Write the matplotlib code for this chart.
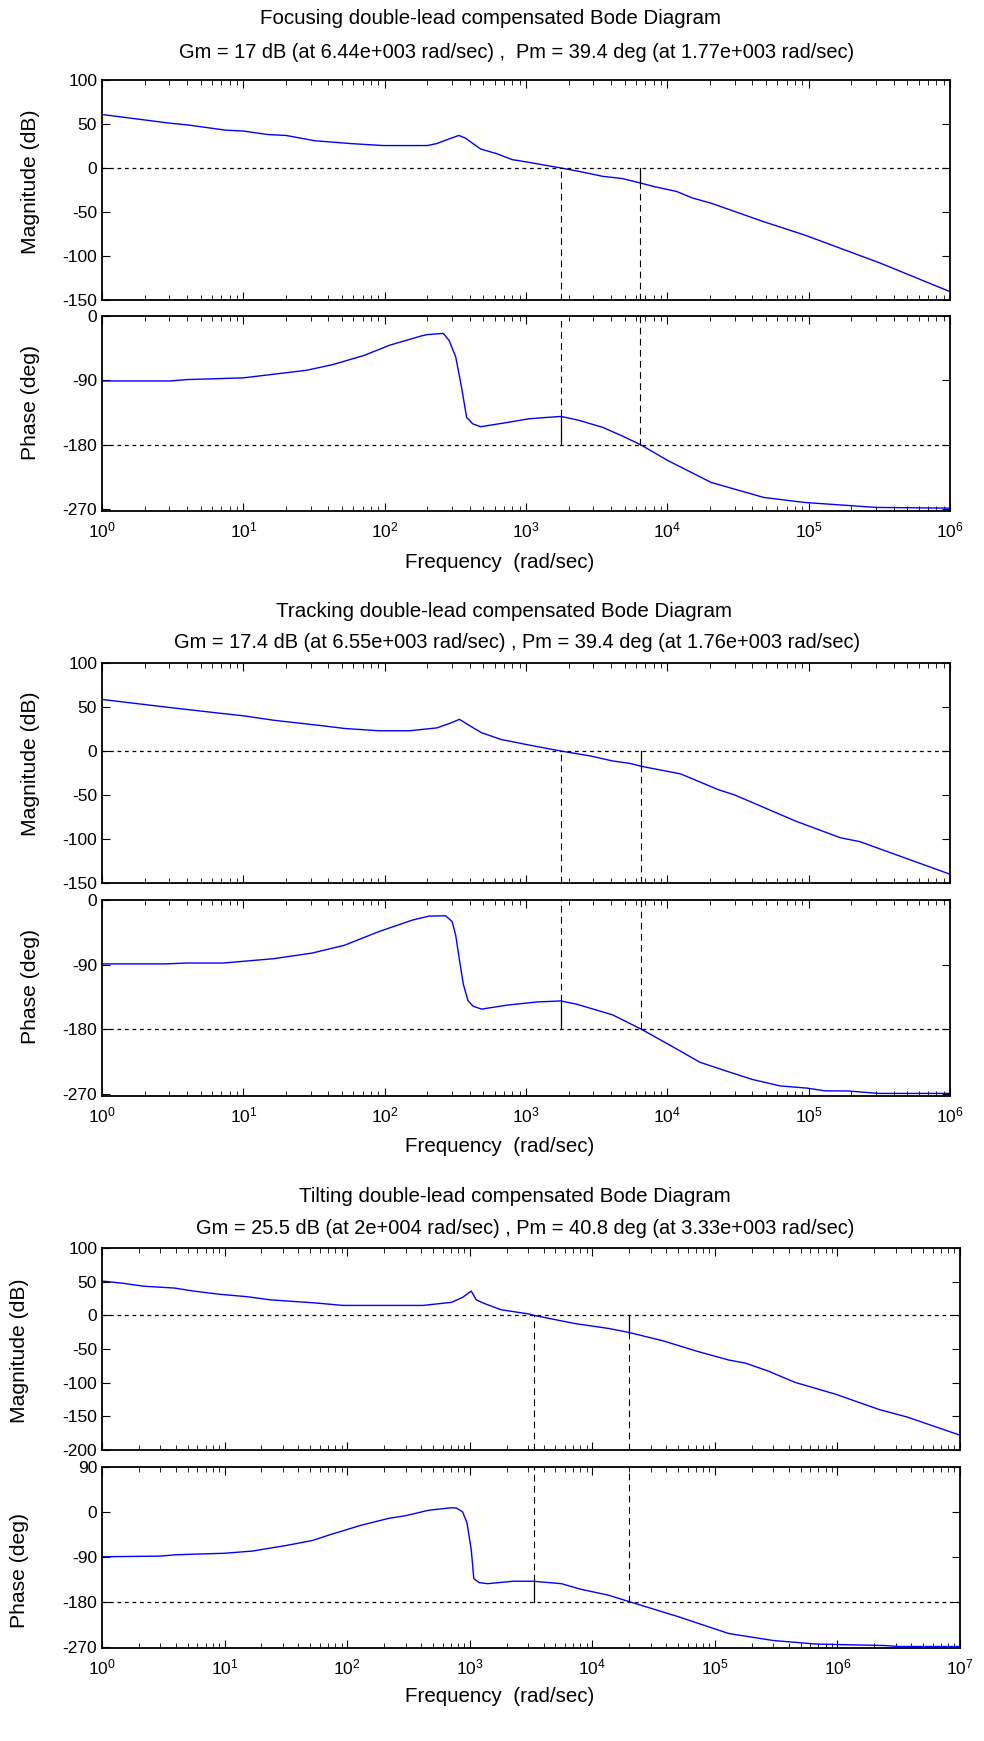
import matplotlib
matplotlib.use('Agg')
import matplotlib.pyplot as plt
import numpy as np

plt.rcParams['font.family'] = ['Liberation Sans', 'DejaVu Sans']
plt.rcParams['mathtext.default'] = 'regular'
plt.rcParams['axes.unicode_minus'] = False

# ---- Focusing loop ----
foc_w = [1, 3, 4, 7.5, 10, 15, 20, 32, 58, 98, 200, 233, 274, 335, 372, 477, 620, 800, 1040,
         1770, 2360, 3500, 4800, 6440, 8000, 11600, 15000, 20400, 37600, 48000, 93000, 3.2e5, 1e6]
foc_mag = [60.8, 51, 49, 43, 42, 38, 37, 31, 27.7, 25.5, 25.5, 27.7, 32, 37, 34, 21.6, 16.3, 9.5, 6.5,
           0, -3.8, -9.5, -12, -17, -21, -26.6, -34, -40, -55, -61, -76, -108, -140.5]
foc_pw = [1, 3, 4, 10, 19, 28, 43, 72, 108, 181, 200, 260, 285, 318, 350, 380, 420, 477, 690, 1040,
          1400, 1770, 2360, 3500, 4800, 6440, 1e4, 20400, 37600, 48000, 93000, 3e5, 1e6]
foc_ph = [-91, -91, -89, -86.6, -80, -76, -68, -55, -41, -28, -26, -24.4, -34, -57, -100, -142, -151,
          -155, -150, -144, -142, -140.6, -146, -156, -168, -180, -202, -233, -248, -254, -261, -268, -269]

# ---- Tracking loop ----
trk_w = [1, 2.8, 7.2, 10, 16.3, 36.7, 52, 91, 150, 235, 295, 338, 388, 485, 670, 1050, 1760, 2850,
         4100, 5400, 6550, 12400, 23000, 30000, 81000, 1.67e5, 2.3e5, 1e6]
trk_mag = [58.6, 50, 42.5, 40, 35, 28.6, 25.6, 23, 23, 26.3, 32, 36, 30, 20.7, 13, 6.8, 0, -5.6,
           -11.3, -14, -17.4, -26, -44, -50, -79.7, -98.5, -103, -140]
trk_pw = [1, 2.8, 4, 7.2, 16.3, 30.7, 52, 91, 157, 206, 270, 300, 318, 340, 360, 388, 423, 485, 730,
          1200, 1760, 2270, 4100, 6550, 11000, 17000, 25000, 40000, 63000, 97000, 1.3e5, 1.9e5, 3.1e5, 1e6]
trk_ph = [-89, -89, -87.8, -87.8, -81.8, -73.9, -63, -44, -28, -22.4, -22, -30, -49, -86.5, -117, -140,
          -148, -152, -146.5, -142, -140.6, -145, -160, -180, -204.8, -226, -237, -250, -259, -262,
          -265.8, -266, -269.4, -269.4]

# ---- Tilting loop ----
tlt_w = [1, 1.5, 2.17, 3.9, 5.6, 9.1, 15.4, 23.6, 55, 93, 415, 710, 875, 1030, 1130, 1320, 1800, 3100,
         3330, 7100, 13500, 20000, 38000, 7.2e4, 1.3e5, 1.78e5, 2.7e5, 4.5e5, 9.6e5, 2.2e6, 3.7e6, 1e7]
tlt_mag = [51, 47.5, 43.3, 40.5, 36, 31.3, 27.6, 23, 18.4, 14.7, 14.7, 19.3, 26.7, 36, 23, 17.5, 8.3,
           1.8, 0, -12, -19.4, -25.5, -38, -53.5, -66.4, -71, -82.5, -99.5, -117, -140, -151, -178]
tlt_pw = [1, 3, 4, 10, 17, 32.5, 52, 75, 130, 220, 300, 460, 710, 780, 875, 950, 1030, 1080, 1200, 1400,
          2290, 3330, 5600, 8000, 13500, 20000, 5e4, 1.3e5, 3e5, 6.6e5, 1.2e6, 2.4e6, 3.2e6, 1e7]
tlt_ph = [-90, -88.7, -86, -83, -78.5, -67, -57.4, -44.7, -26.8, -12.8, -7.7, 3.2, 8.3, 7.7, 0, -22,
          -76.6, -134, -142, -144, -139, -139.2, -144, -155, -167, -180, -210, -244, -258, -265, -266.5,
          -268, -270, -270]

plants = [
    dict(name='Focusing', w=foc_w, mag=foc_mag, pw=foc_pw, ph=foc_ph,
         gm=17, wcg=6.44e3, pm=39.4, wcp=1.77e3,
         sub='Gm = 17 dB (at 6.44e+003 rad/sec) ,  Pm = 39.4 deg (at 1.77e+003 rad/sec)',
         xmax=1e6, mlim=(-150, 100), mticks=[-150, -100, -50, 0, 50, 100],
         plim=(-273, 0), pticks=[-270, -180, -90, 0],
         box=(102, 950, 80, 300, 316, 511), ty=(19, 52, 562), tx=(491, 517),
         lab=(-61.5, 182, 402)),
    dict(name='Tracking', w=trk_w, mag=trk_mag, pw=trk_pw, ph=trk_ph,
         gm=17.4, wcg=6.55e3, pm=39.4, wcp=1.76e3,
         sub='Gm = 17.4 dB (at 6.55e+003 rad/sec) , Pm = 39.4 deg (at 1.76e+003 rad/sec)',
         xmax=1e6, mlim=(-150, 100), mticks=[-150, -100, -50, 0, 50, 100],
         plim=(-273, 0), pticks=[-270, -180, -90, 0],
         box=(102, 950, 663, 883, 900, 1096), ty=(611, 643, 1146), tx=(504, 517),
         lab=(-61.5, 764, 986)),
    dict(name='Tilting', w=tlt_w, mag=tlt_mag, pw=tlt_pw, ph=tlt_ph,
         gm=25.5, wcg=2e4, pm=40.8, wcp=3.33e3,
         sub='Gm = 25.5 dB (at 2e+004 rad/sec) , Pm = 40.8 deg (at 3.33e+003 rad/sec)',
         xmax=1e7, mlim=(-200, 100), mticks=[-200, -150, -100, -50, 0, 50, 100],
         plim=(-273, 90), pticks=[-270, -180, -90, 0, 90],
         box=(102, 960, 1248, 1450, 1467, 1648), ty=(1196, 1229, 1697), tx=(515, 525),
         lab=(-72.5, 1351, 1570)),
]

W, H = 984, 1741
fig = plt.figure(figsize=(W / 100, H / 100), dpi=100)


def style(ax, xmax):
    ax.set_xscale('log')
    ax.set_xlim(1, xmax)
    ax.tick_params(which='both', direction='in', top=True, right=True, labelsize=12.5)
    ax.tick_params(which='major', length=6, width=0.8)
    ax.tick_params(which='minor', length=3.5, width=0.6)
    for s in ax.spines.values():
        s.set_linewidth(1.3)


for p in plants:
    x0, x1, my0, my1, py0, py1 = p['box']
    axm = fig.add_axes([x0 / W, 1 - my1 / H, (x1 - x0) / W, (my1 - my0) / H])
    axp = fig.add_axes([x0 / W, 1 - py1 / H, (x1 - x0) / W, (py1 - py0) / H])
    for ax in (axm, axp):
        style(ax, p['xmax'])

    # magnitude
    axm.plot(p['w'], p['mag'], color='#0000ff', lw=1)
    axm.axhline(0, color='k', lw=0.9, ls=(0, (3, 3)))
    axm.plot([p['wcp'], p['wcp']], [p['mlim'][0], 0], color='k', lw=0.8, ls=(0, (6, 4)))
    axm.plot([p['wcg'], p['wcg']], [p['mlim'][0], -p['gm']], color='k', lw=0.8, ls=(0, (6, 4)))
    axm.plot([p['wcg'], p['wcg']], [-p['gm'], 0], color='k', lw=0.9)
    axm.set_ylim(*p['mlim'])
    axm.set_yticks(p['mticks'])
    axm.tick_params(labelbottom=False)
    axm.set_ylabel('Magnitude (dB)', fontsize=15.2)

    # phase
    axp.plot(p['pw'], p['ph'], color='#0000ff', lw=1)
    axp.axhline(-180, color='k', lw=0.9, ls=(0, (3, 3)))
    axp.plot([p['wcp'], p['wcp']], [p['pm'] - 180, p['plim'][1]], color='k', lw=0.8, ls=(0, (6, 4)))
    axp.plot([p['wcp'], p['wcp']], [-180, p['pm'] - 180], color='k', lw=0.9)
    axp.plot([p['wcg'], p['wcg']], [-180, p['plim'][1]], color='k', lw=0.8, ls=(0, (6, 4)))
    axp.set_ylim(*p['plim'])
    axp.set_yticks(p['pticks'])
    axp.set_ylabel('Phase (deg)', fontsize=15.2)
    axp.tick_params(axis='x', pad=7)

    lx, lym, lyp = p['lab']
    axm.yaxis.set_label_coords(lx / (x1 - x0), (my1 - lym) / (my1 - my0))
    axp.yaxis.set_label_coords(lx / (x1 - x0), (py1 - lyp) / (py1 - py0))

    ty0, ty1, ty2 = p['ty']
    fig.text(p['tx'][0] / W, 1 - ty0 / H, p['name'] + ' double-lead compensated Bode Diagram',
             ha='center', va='center', fontsize=14.8)
    fig.text(p['tx'][1] / W, 1 - ty1 / H, p['sub'], ha='center', va='center', fontsize=14.4)
    fig.text(500 / W, 1 - ty2 / H, 'Frequency  (rad/sec)', ha='center',
             va='center', fontsize=14.8)

fig.savefig('out.png', dpi=100)
